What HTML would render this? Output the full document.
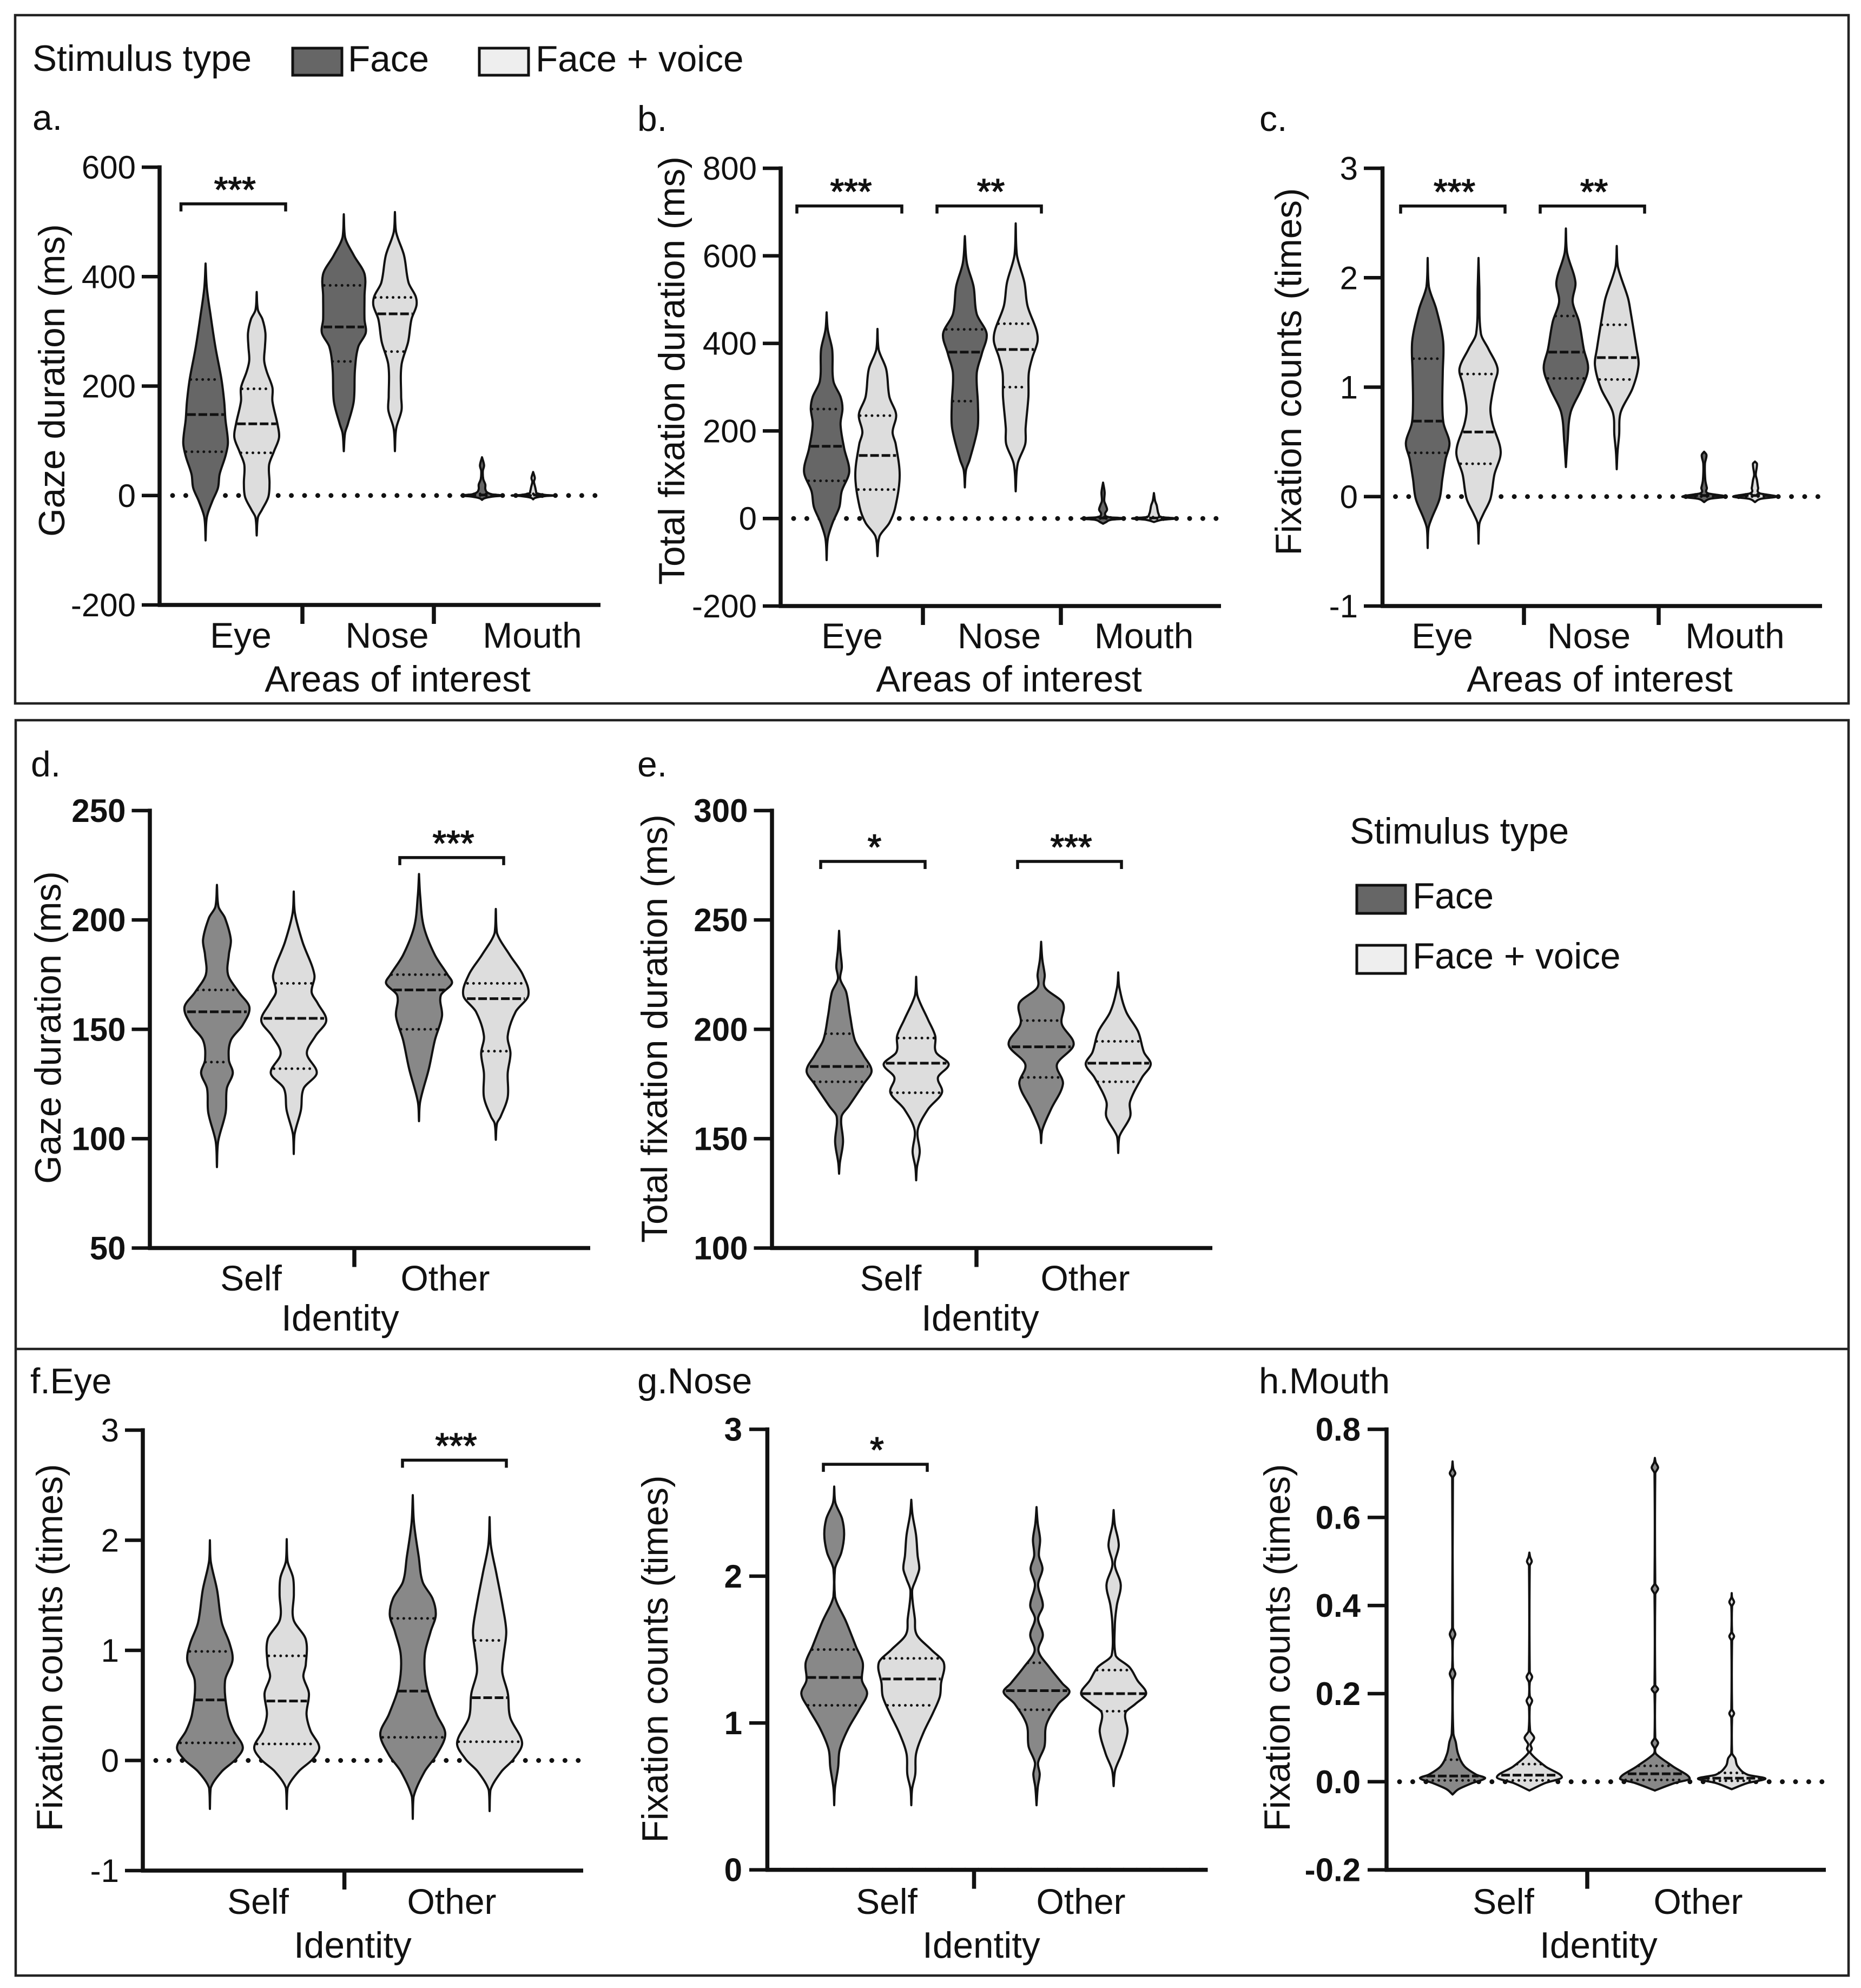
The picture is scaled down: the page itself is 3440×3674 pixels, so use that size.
<!DOCTYPE html>
<html lang="en">
<head>
<meta charset="utf-8">
<title>Violin plots of gaze measures by stimulus type</title>
<style>
html,body{margin:0;padding:0;background:#fff;}
svg{display:block;font-family:"Liberation Sans",Arial,sans-serif;fill:#111;}
</style>
</head>
<body>
<svg id="figure" xmlns="http://www.w3.org/2000/svg" width="3440" height="3674" viewBox="0 0 3440 3674">
  <rect x="0" y="0" width="3440" height="3674" fill="#fff"/>
  <rect x="28" y="28" width="3389" height="1272" fill="none" stroke="#222" stroke-width="4.5"/>
  <rect x="29" y="1331" width="3388" height="2320" fill="none" stroke="#222" stroke-width="4.5"/>
  <line x1="29" y1="2493" x2="3417" y2="2493" stroke="#222" stroke-width="4.5"/>

  <text x="60" y="131" font-size="67.5">Stimulus type</text>
  <rect x="541" y="89" width="91" height="50" fill="#666" stroke="#111" stroke-width="5"/>
  <text x="643" y="132" font-size="67.5">Face</text>
  <rect x="886" y="89" width="91" height="50" fill="#eee" stroke="#111" stroke-width="5"/>
  <text x="990" y="132" font-size="67.5">Face + voice</text>

  <text x="2495" y="1559" font-size="67.5">Stimulus type</text>
  <rect x="2508" y="1636" width="90" height="52" fill="#666" stroke="#111" stroke-width="5"/>
  <text x="2611" y="1679" font-size="67.5">Face</text>
  <rect x="2508" y="1747" width="90" height="52" fill="#eee" stroke="#111" stroke-width="5"/>
  <text x="2611" y="1790" font-size="67.5">Face + voice</text>

  <text x="60" y="240" font-size="66">a.</text>
  <text x="1178" y="242" font-size="66">b.</text>
  <text x="2328" y="242" font-size="66">c.</text>
  <text x="57" y="1435" font-size="66">d.</text>
  <text x="1178" y="1435" font-size="66">e.</text>
  <text x="56" y="2575" font-size="66">f.Eye</text>
  <text x="1178" y="2575" font-size="67">g.Nose</text>
  <text x="2327" y="2575" font-size="67">h.Mouth</text>

  <text font-size="67.5" text-anchor="middle" transform="translate(119 703) rotate(-90)">Gaze duration (ms)</text>
  <text font-size="67.5" text-anchor="middle" transform="translate(1265 685) rotate(-90)">Total fixation duration (ms)</text>
  <text font-size="67.5" text-anchor="middle" transform="translate(2405 687) rotate(-90)">Fixation counts (times)</text>
  <text font-size="67.5" text-anchor="middle" transform="translate(112 1899) rotate(-90)">Gaze duration (ms)</text>
  <text font-size="67.5" text-anchor="middle" transform="translate(1233 1901) rotate(-90)">Total fixation duration (ms)</text>
  <text font-size="67.5" text-anchor="middle" transform="translate(115 3045) rotate(-90)">Fixation counts (times)</text>
  <text font-size="67.5" text-anchor="middle" transform="translate(1234 3066) rotate(-90)">Fixation counts (times)</text>
  <text font-size="67.5" text-anchor="middle" transform="translate(2384 3045) rotate(-90)">Fixation counts (times)</text>

  <text x="735" y="1278" font-size="67.5" text-anchor="middle">Areas of interest</text>
  <text x="1865" y="1278" font-size="67.5" text-anchor="middle">Areas of interest</text>
  <text x="2957" y="1278" font-size="67.5" text-anchor="middle">Areas of interest</text>
  <text x="629" y="2459" font-size="67.5" text-anchor="middle">Identity</text>
  <text x="1812" y="2459" font-size="67.5" text-anchor="middle">Identity</text>
  <text x="652" y="3618" font-size="67.5" text-anchor="middle">Identity</text>
  <text x="1814" y="3618" font-size="67.5" text-anchor="middle">Identity</text>
  <text x="2955" y="3618" font-size="67.5" text-anchor="middle">Identity</text>
</svg>
<script>
// Tick labels and categories
const ticksA = [-200, 0, 200, 400, 600];
const ticksB = [-200, 0, 200, 400, 600, 800];
const ticksC = [-1, 0, 1, 2, 3];
const ticksD = [50, 100, 150, 200, 250];
const ticksE = [100, 150, 200, 250, 300];
const ticksF = [-1, 0, 1, 2, 3];
const ticksG = [0, 1, 2, 3];
const ticksH = [-0.2, 0, 0.2, 0.4, 0.6, 0.8];
const areaCategories = ['Eye', 'Nose', 'Mouth'];
const identityCategories = ['Self', 'Other'];

// Violin profiles: V = value, D = density (half-width units), Q = quartiles [q1, median, q3]
const aEyeFaceV = [424,380,330,270,214,172,139,97,72,39,14,-11,-40,-82];
const aEyeFaceD = [0,3,12,24,38,45,48,54,48,34,30,16,3,0];
const aEyeFaceQ = [80,148,212];
const aEyeVoiceV = [372,339,322,297,272,247,227,197,172,131,106,81,56,22,-3,-27,-40,-73];
const aEyeVoiceD = [0,3,14,21,20,18,24,38,38,50,54,42,30,31,28,12,3,0];
const aEyeVoiceQ = [78,131,195];
const aNoseFaceV = [514,472,439,405,364,322,297,272,231,172,131,114,81];
const aNoseFaceD = [0,3,24,50,50,50,53,35,27,24,10,3,0];
const aNoseFaceQ = [245,308,384];
const aNoseVoiceV = [518,481,439,389,364,347,322,281,239,181,156,122,81];
const aNoseVoiceD = [0,3,22,33,50,52,40,32,16,15,16,3,0];
const aNoseVoiceQ = [263,332,362];
const aMouthFaceV = [70,55,45,30,20,12,6,2,0,-2,-5,-8];
const aMouthFaceD = [0,5,2,3,8,8,12,25,50,25,6,0];
const aMouthFaceQ = [0,1,3];
const aMouthVoiceV = [43,32,25,15,8,4,1,0,-1,-4,-7];
const aMouthVoiceD = [0,4,2,5,7,10,30,52,30,6,0];
const aMouthVoiceQ = [0,1,3];

const bEyeFaceV = [471,431,386,314,278,251,215,161,107,62,26,-10,-46,-95];
const bEyeFaceD = [0,3,14,17,35,40,35,44,57,38,32,15,3,0];
const bEyeFaceQ = [86,165,250];
const bEyeVoiceV = [433,386,341,278,237,197,170,98,26,-10,-41,-86];
const bEyeVoiceD = [0,3,22,30,47,38,46,56,45,30,5,0];
const bEyeVoiceQ = [66,144,235];
const bNoseFaceV = [645,584,530,467,422,377,332,260,206,134,111,71];
const bNoseFaceD = [0,5,22,30,55,43,30,33,32,12,3,0];
const bNoseFaceQ = [268,380,432];
const bNoseVoiceV = [674,602,539,485,431,404,368,332,278,206,170,125,62];
const bNoseVoiceD = [0,3,22,30,52,55,42,33,32,25,24,5,0];
const bNoseVoiceQ = [300,386,445];
const bMouthFaceV = [82,60,40,30,20,10,3,0,-3,-8,-12];
const bMouthFaceD = [0,4,3,7,10,5,15,55,20,8,0];
const bMouthFaceQ = [0,1,3];
const bMouthVoiceV = [58,40,30,20,10,3,0,-3,-8];
const bMouthVoiceD = [0,3,7,9,12,20,55,20,0];
const bMouthVoiceQ = [0,1,3];

const cEyeFaceV = [2.18,1.92,1.71,1.42,1.13,0.85,0.67,0.49,0.34,0.16,-0.02,-0.2,-0.29,-0.47];
const cEyeFaceD = [0,3,22,39,38,37,40,55,45,37,30,10,2,0];
const cEyeFaceQ = [0.4,0.69,1.26];
const cEyeVoiceV = [2.18,1.92,1.49,1.35,1.17,1.03,0.81,0.67,0.41,0.2,-0.02,-0.16,-0.25,-0.43];
const cEyeVoiceD = [0,2,6,25,48,40,30,35,56,40,30,12,2,0];
const cEyeVoiceQ = [0.3,0.59,1.12];
const cNoseFaceV = [2.45,2.23,1.96,1.78,1.6,1.35,1.17,0.99,0.77,0.49,0.27];
const cNoseFaceD = [0,3,24,17,33,45,56,40,12,4,0];
const cNoseFaceQ = [1.08,1.32,1.65];
const cNoseVoiceV = [2.29,2.1,1.82,1.71,1.35,1.2,0.99,0.77,0.56,0.41,0.25];
const cNoseVoiceD = [0,3,28,34,50,55,40,10,6,2,0];
const cNoseVoiceQ = [1.07,1.27,1.57];
const cMouthFaceV = [0.41,0.38,0.3,0.15,0.08,0.03,0,-0.02,-0.05];
const cMouthFaceD = [0,6,2,3,7,10,55,15,0];
const cMouthFaceQ = [0,0.01,0.02];
const cMouthVoiceV = [0.32,0.3,0.2,0.15,0.08,0.03,0,-0.02,-0.05];
const cMouthVoiceD = [0,5,2,5,8,12,55,15,0];
const cMouthVoiceQ = [0,0.01,0.02];

const dSelfFaceV = [216,206,201,191,184,175,167,160,152,145,136,130,123,112,98.6,87];
const dSelfFaceD = [0,4,20,35,30,28,55,82,65,35,30,40,25,22,3,0];
const dSelfFaceQ = [135,158,168];
const dSelfVoiceV = [213,203,190,175,167,162,154,147,139,130,123,113,102,93];
const dSelfVoiceD = [0,3,22,52,45,60,82,55,33,58,25,18,2,0];
const dSelfVoiceQ = [132,155,171];
const dOtherFaceV = [221,211,197,184,175,171,165.5,156,145,132,117,108];
const dOtherFaceD = [0,3,12,40,72,83,55,58,40,25,3,0];
const dOtherFaceQ = [150,168,175];
const dOtherVoiceV = [205,194,184,175,165.5,158,147,139,130,119,110,107,99.5];
const dOtherVoiceD = [0,3,35,68,82,50,30,37,30,30,12,3,0];
const dOtherVoiceQ = [140,164,171];

const eSelfFaceV = [245,236,228.5,223,217,206,195,188,181,175,165,160,148.5,139,134];
const eSelfFaceD = [0,3,7,3,18,28,40,62,82,62,25,6,10,2,0];
const eSelfFaceQ = [176,183,198];
const eSelfVoiceV = [224,215.5,204.4,197,189.5,184,178,171,163.5,154,144,137,131];
const eSelfVoiceD = [0,3,30,48,50,82,55,65,30,4,9,2,0];
const eSelfVoiceQ = [171,184.5,196];
const eOtherFaceV = [240,232,225,219,212,202.5,193,184,175,163.5,154,148];
const eOtherFaceD = [0,3,9,10,55,52,82,40,55,25,3,0];
const eOtherFaceQ = [178,192,204];
const eOtherVoiceV = [226,219,208,199,189.5,184,178,167,160,151,143.5];
const eOtherVoiceD = [0,3,20,50,65,82,60,30,30,3,0];
const eOtherVoiceQ = [176,184.5,194.5];

const fSelfFaceV = [2.0,1.81,1.55,1.25,1.06,0.91,0.72,0.42,0.27,0.12,0.01,-0.1,-0.25,-0.44];
const fSelfFaceD = [0,2,18,30,50,57,38,45,60,83,65,30,2,0];
const fSelfFaceQ = [0.16,0.55,0.99];
const fSelfVoiceV = [2.01,1.81,1.66,1.51,1.28,1.1,0.87,0.76,0.61,0.42,0.27,0.12,0.01,-0.1,-0.25,-0.44];
const fSelfVoiceD = [0,2,16,18,17,48,48,42,56,50,60,82,65,30,2,0];
const fSelfVoiceQ = [0.15,0.54,0.95];
const fOtherFaceV = [2.41,2.16,1.85,1.62,1.47,1.32,1.17,0.95,0.68,0.42,0.24,0.05,-0.1,-0.33,-0.53];
const fOtherFaceD = [0,3,15,25,50,58,45,30,35,60,82,60,30,2,0];
const fOtherFaceQ = [0.21,0.63,1.29];
const fOtherVoiceV = [2.21,1.96,1.7,1.4,1.17,0.95,0.8,0.61,0.39,0.16,0.01,-0.1,-0.27,-0.46];
const fOtherVoiceD = [0,3,17,33,42,35,32,46,52,82,60,30,2,0];
const fOtherVoiceQ = [0.17,0.57,1.09];

const gSelfFaceV = [2.61,2.5,2.39,2.28,2.16,2.05,1.86,1.69,1.52,1.41,1.29,1.2,1.1,0.96,0.82,0.7,0.56,0.44];
const gSelfFaceD = [0,3,20,25,18,2,2,30,55,72,70,83,65,35,14,10,2,0];
const gSelfFaceQ = [1.12,1.31,1.5];
const gSelfVoiceV = [2.52,2.42,2.28,2.14,2.05,1.98,1.9,1.71,1.6,1.5,1.41,1.27,1.18,1.07,0.93,0.79,0.65,0.55,0.44];
const gSelfVoiceD = [0,3,12,16,20,12,2,9,14,50,82,75,72,55,30,12,10,2,0];
const gSelfVoiceQ = [1.12,1.3,1.44];
const gOtherFaceV = [2.47,2.36,2.25,2.14,2.05,1.94,1.8,1.71,1.6,1.49,1.38,1.27,1.21,1.13,0.99,0.84,0.73,0.65,0.56,0.44];
const gOtherFaceD = [0,3,9,6,15,4,16,4,16,5,32,65,83,55,25,20,4,8,3,0];
const gOtherFaceQ = [1.09,1.22,1.41];
const gOtherVoiceV = [2.45,2.35,2.21,2.08,1.94,1.8,1.66,1.46,1.38,1.29,1.2,1.13,1.07,0.94,0.79,0.68,0.57];
const gOtherVoiceD = [0,3,13,3,18,8,3,5,40,60,82,55,30,35,20,4,0];
const gOtherVoiceQ = [1.08,1.2,1.36];

const hSelfFaceV = [0.727,0.71,0.70,0.69,0.35,0.335,0.32,0.26,0.245,0.23,0.11,0.09,0.063,0.035,0.016,0.008,-0.003,-0.017,-0.029];
const hSelfFaceD = [0,2,7,1,1,7,1,1,7,1,2,8,14,30,60,82,50,15,0];
const hSelfFaceQ = [0.003,0.013,0.05];
const hSelfVoiceV = [0.52,0.51,0.5,0.49,0.25,0.238,0.225,0.195,0.184,0.17,0.115,0.1,0.085,0.075,0.065,0.035,0.01,-0.003,-0.02];
const hSelfVoiceD = [0,2,6,1,1,7,1,1,7,1,2,12,3,6,3,40,82,40,0];
const hSelfVoiceQ = [0.003,0.015,0.04];
const hOtherFaceV = [0.735,0.725,0.713,0.7,0.45,0.438,0.425,0.22,0.21,0.2,0.1,0.088,0.075,0.063,0.035,0.007,-0.003,-0.02];
const hOtherFaceD = [0,2,8,1,1,8,1,1,8,1,1,8,1,3,45,88,50,0];
const hOtherFaceQ = [0.004,0.018,0.036];
const hOtherVoiceV = [0.428,0.418,0.408,0.398,0.34,0.33,0.32,0.165,0.155,0.145,0.065,0.053,0.035,0.016,0.007,-0.003,-0.017];
const hOtherVoiceD = [0,1,6,1,1,6,1,1,6,1,1,9,15,40,85,40,0];
const hOtherVoiceQ = [0.002,0.008,0.02];

const zeroLinePanels = ['a', 'b', 'c', 'f', 'g', 'h'];

const panels = [
  {id:'a', ticks:ticksA, cats:areaCategories, bold:false, dec:0,
   axisX:295, xEnd:1110, tickLeft:262, labelRight:251, yTop:309, yBottom:1118, yMax:600, yMin:-200,
   x0:380, step:255.5, gap:94.5, k:0.765, dark:'#666', catCentres:[445,715.5,984], catBase:1197, seps:[559,802],
   bars:[{x1:334.5, x2:528, level:533, stars:'***'}],
   violins:[
    {cat:0,s:0,v:aEyeFaceV,d:aEyeFaceD,q:aEyeFaceQ},{cat:0,s:1,v:aEyeVoiceV,d:aEyeVoiceD,q:aEyeVoiceQ},
    {cat:1,s:0,v:aNoseFaceV,d:aNoseFaceD,q:aNoseFaceQ},{cat:1,s:1,v:aNoseVoiceV,d:aNoseVoiceD,q:aNoseVoiceQ},
    {cat:2,s:0,v:aMouthFaceV,d:aMouthFaceD,q:aMouthFaceQ},{cat:2,s:1,v:aMouthVoiceV,d:aMouthVoiceD,q:aMouthVoiceQ}]},
  {id:'b', ticks:ticksB, cats:areaCategories, bold:false, dec:0,
   axisX:1443, xEnd:2257, tickLeft:1410, labelRight:1399, yTop:311, yBottom:1120, yMax:800, yMin:-200,
   x0:1528, step:255.5, gap:94, k:0.733, dark:'#666', catCentres:[1575,1847,2114.6], catBase:1198, seps:[1706,1961],
   bars:[{x1:1473, x2:1667, level:714, stars:'***'},{x1:1732, x2:1925, level:714, stars:'**'}],
   violins:[
    {cat:0,s:0,v:bEyeFaceV,d:bEyeFaceD,q:bEyeFaceQ},{cat:0,s:1,v:bEyeVoiceV,d:bEyeVoiceD,q:bEyeVoiceQ},
    {cat:1,s:0,v:bNoseFaceV,d:bNoseFaceD,q:bNoseFaceQ},{cat:1,s:1,v:bNoseVoiceV,d:bNoseVoiceD,q:bNoseVoiceQ},
    {cat:2,s:0,v:bMouthFaceV,d:bMouthFaceD,q:bMouthFaceQ},{cat:2,s:1,v:bMouthVoiceV,d:bMouthVoiceD,q:bMouthVoiceQ}]},
  {id:'c', ticks:ticksC, cats:areaCategories, bold:false, dec:0,
   axisX:2555.5, xEnd:3368, tickLeft:2521, labelRight:2510, yTop:311, yBottom:1120, yMax:3, yMin:-1,
   x0:2639, step:255.5, gap:94, k:0.733, dark:'#666', catCentres:[2666,2937,3207], catBase:1198, seps:[2817,3066],
   bars:[{x1:2589, x2:2782, level:2.655, stars:'***'},{x1:2847, x2:3040, level:2.655, stars:'**'}],
   violins:[
    {cat:0,s:0,v:cEyeFaceV,d:cEyeFaceD,q:cEyeFaceQ},{cat:0,s:1,v:cEyeVoiceV,d:cEyeVoiceD,q:cEyeVoiceQ},
    {cat:1,s:0,v:cNoseFaceV,d:cNoseFaceD,q:cNoseFaceQ},{cat:1,s:1,v:cNoseVoiceV,d:cNoseVoiceD,q:cNoseVoiceQ},
    {cat:2,s:0,v:cMouthFaceV,d:cMouthFaceD,q:cMouthFaceQ},{cat:2,s:1,v:cMouthVoiceV,d:cMouthVoiceD,q:cMouthVoiceQ}]},
  {id:'d', ticks:ticksD, cats:identityCategories, bold:true, dec:0,
   axisX:277, xEnd:1091, tickLeft:243.5, labelRight:232.5, yTop:1498, yBottom:2306.5, yMax:250, yMin:50,
   x0:401, step:373.5, gap:142, k:0.733, dark:'#888', catCentres:[464,823], catBase:2385, seps:[655],
   bars:[{x1:739, x2:931, level:228.5, stars:'***'}],
   violins:[
    {cat:0,s:0,v:dSelfFaceV,d:dSelfFaceD,q:dSelfFaceQ},{cat:0,s:1,v:dSelfVoiceV,d:dSelfVoiceD,q:dSelfVoiceQ},
    {cat:1,s:0,v:dOtherFaceV,d:dOtherFaceD,q:dOtherFaceQ},{cat:1,s:1,v:dOtherVoiceV,d:dOtherVoiceD,q:dOtherVoiceQ}]},
  {id:'e', ticks:ticksE, cats:identityCategories, bold:true, dec:0,
   axisX:1427, xEnd:2241, tickLeft:1393.5, labelRight:1382.5, yTop:1498, yBottom:2306.5, yMax:300, yMin:100,
   x0:1551, step:373.5, gap:142.5, k:0.733, dark:'#888', catCentres:[1646.5,2006], catBase:2385, seps:[1805],
   bars:[{x1:1517, x2:1710, level:276.75, stars:'*'},{x1:1881, x2:2073, level:276.75, stars:'***'}],
   violins:[
    {cat:0,s:0,v:eSelfFaceV,d:eSelfFaceD,q:eSelfFaceQ},{cat:0,s:1,v:eSelfVoiceV,d:eSelfVoiceD,q:eSelfVoiceQ},
    {cat:1,s:0,v:eOtherFaceV,d:eOtherFaceD,q:eOtherFaceQ},{cat:1,s:1,v:eOtherVoiceV,d:eOtherVoiceD,q:eOtherVoiceQ}]},
  {id:'f', ticks:ticksF, cats:identityCategories, bold:false, dec:0,
   axisX:264, xEnd:1078, tickLeft:231, labelRight:220, yTop:2643, yBottom:3457, yMax:3, yMin:-1,
   x0:388, step:375, gap:142, k:0.733, dark:'#888', catCentres:[477,835], catBase:3537, seps:[636.6],
   bars:[{x1:744, x2:936, level:2.727, stars:'***'}],
   violins:[
    {cat:0,s:0,v:fSelfFaceV,d:fSelfFaceD,q:fSelfFaceQ},{cat:0,s:1,v:fSelfVoiceV,d:fSelfVoiceD,q:fSelfVoiceQ},
    {cat:1,s:0,v:fOtherFaceV,d:fOtherFaceD,q:fOtherFaceQ},{cat:1,s:1,v:fOtherVoiceV,d:fOtherVoiceD,q:fOtherVoiceQ}]},
  {id:'g', ticks:ticksG, cats:identityCategories, bold:true, dec:0,
   axisX:1418.4, xEnd:2232.5, tickLeft:1385, labelRight:1372, yTop:2641.5, yBottom:3455.6, yMax:3, yMin:0,
   x0:1542, step:374, gap:142.5, k:0.733, dark:'#888', catCentres:[1639,1998], catBase:3537, seps:[1800.5],
   bars:[{x1:1522, x2:1714, level:2.762, stars:'*'}],
   violins:[
    {cat:0,s:0,v:gSelfFaceV,d:gSelfFaceD,q:gSelfFaceQ},{cat:0,s:1,v:gSelfVoiceV,d:gSelfVoiceD,q:gSelfVoiceQ},
    {cat:1,s:0,v:gOtherFaceV,d:gOtherFaceD,q:gOtherFaceQ},{cat:1,s:1,v:gOtherVoiceV,d:gOtherVoiceD,q:gOtherVoiceQ}]},
  {id:'h', ticks:ticksH, cats:identityCategories, bold:true, dec:1,
   axisX:2563, xEnd:3375, tickLeft:2528, labelRight:2515, yTop:2641.5, yBottom:3455.6, yMax:0.8, yMin:-0.2,
   x0:2685, step:374, gap:142, k:0.733, dark:'#888', catCentres:[2779,3139], catBase:3537, seps:[2934],
   bars:[],
   violins:[
    {cat:0,s:0,v:hSelfFaceV,d:hSelfFaceD,q:hSelfFaceQ},{cat:0,s:1,v:hSelfVoiceV,d:hSelfVoiceD,q:hSelfVoiceQ},
    {cat:1,s:0,v:hOtherFaceV,d:hOtherFaceD,q:hOtherFaceQ},{cat:1,s:1,v:hOtherVoiceV,d:hOtherVoiceD,q:hOtherVoiceQ}]}
];

const NS = 'http://www.w3.org/2000/svg';
const root = document.getElementById('figure');

function make(tag, attrs, parent) {
  const node = document.createElementNS(NS, tag);
  for (const key in attrs) node.setAttribute(key, attrs[key]);
  parent.appendChild(node);
  return node;
}

// Hermite curve of half-width against y: slopes come from finite differences,
// so short bumps stay symmetric next to long tails. Width is clamped at the centre line.
function sideSegments(pts, cx, sign) {
  const n = pts.length;
  const slope = pts.map(function (pt, i) {
    const a = pts[Math.max(i - 1, 0)], b = pts[Math.min(i + 1, n - 1)];
    return (b[0] - a[0]) / (b[1] - a[1]);
  });
  let out = '';
  for (let i = 0; i < n - 1; i++) {
    const p1 = pts[i], p2 = pts[i + 1];
    const dy = (p2[1] - p1[1]) / 3;
    const w1 = Math.max(0, p1[0] + slope[i] * dy);
    const w2 = Math.max(0, p2[0] - slope[i + 1] * dy);
    out += ' C' + (cx + sign * w1).toFixed(1) + ' ' + (p1[1] + dy).toFixed(1) + ' ' + (cx + sign * w2).toFixed(1) + ' ' + (p2[1] - dy).toFixed(1) + ' ' + (cx + sign * p2[0]).toFixed(1) + ' ' + p2[1].toFixed(1);
  }
  return out;
}

function densityAt(values, dens, val) {
  for (let i = 0; i < values.length - 1; i++) {
    if (val <= values[i] && val >= values[i + 1]) {
      const t = (values[i] - val) / (values[i] - values[i + 1]);
      return dens[i] + (dens[i + 1] - dens[i]) * t;
    }
  }
  return 0;
}

panels.forEach(function (p) {
  const yScale = function (val) { return p.yTop + (p.yMax - val) / (p.yMax - p.yMin) * (p.yBottom - p.yTop); };
  const xScale = function (cat, s) { return p.x0 + cat * p.step + s * p.gap; };

  const group = make('g', {}, root);
  
  

  if (zeroLinePanels.indexOf(p.id) >= 0) {
    const onAxis = p.yMin === 0;
    const zero = make('line', {
      x1: p.axisX + 24, x2: p.xEnd, y1: yScale(0) - (onAxis ? 3 : 0), y2: yScale(0) - (onAxis ? 3 : 0),
      stroke: onAxis ? '#999' : '#111', 'stroke-width': onAxis ? 2 : 9, 'stroke-linecap': 'round', 'stroke-dasharray': '0 24.4'
    }, group);
    
    
  }

  p.violins.forEach(function (vio) {
    const cx = xScale(vio.cat, vio.s);
    const series = vio.s === 0 ? 'face' : 'face-voice';
    const pts = vio.v.map(function (val, i) { return [vio.d[i] * p.k, yScale(val)]; });
    const reversed = pts.slice().reverse();
    const d = 'M' + cx.toFixed(1) + ' ' + pts[0][1].toFixed(1) + sideSegments(pts, cx, 1) + ' L' + cx.toFixed(1) + ' ' + reversed[0][1].toFixed(1) + sideSegments(reversed, cx, -1) + ' Z';
    const body = make('path', {
      d: d, fill: vio.s === 0 ? p.dark : '#ddd', stroke: '#111', 'stroke-width': 4, 'stroke-linejoin': 'round'
    }, group);
    
    

    vio.q.forEach(function (qv, qi) {
      const half = Math.max(densityAt(vio.v, vio.d, qv) * p.k - 2, 0);
      const isMedian = qi === 1;
      const qLine = make('line', {
        x1: cx - half, x2: cx + half, y1: yScale(qv), y2: yScale(qv),
        stroke: '#111', 'stroke-width': isMedian ? 5 : 5, 'stroke-linecap': isMedian ? 'butt' : 'round',
        'stroke-dasharray': isMedian ? '16 5' : '0 11'
      }, group);
      
      
    });
  });

  const yAxis = make('line', { x1: p.axisX, x2: p.axisX, y1: p.yTop - 3.5, y2: p.yBottom + 3.5, stroke: '#111', 'stroke-width': 7.5 }, group);
  
  
  const xAxis = make('line', { x1: p.axisX - 3, x2: p.xEnd, y1: p.yBottom, y2: p.yBottom, stroke: '#111', 'stroke-width': 7.5 }, group);
  
  

  p.ticks.forEach(function (t) {
    const ty = yScale(t);
    const mark = make('line', { x1: p.tickLeft, x2: p.axisX, y1: ty, y2: ty, stroke: '#111', 'stroke-width': 6.5 }, group);
    
    
    const label = make('text', {
      x: p.labelRight, y: ty + 21, 'font-size': 60, 'text-anchor': 'end', 'font-weight': p.bold ? 'bold' : 'normal'
    }, group);
    
    
    label.textContent = t.toFixed(p.dec);
  });

  p.seps.forEach(function (sx) {
    const sep = make('line', { x1: sx, x2: sx, y1: p.yBottom, y2: p.yBottom + 35, stroke: '#111', 'stroke-width': 7.5 }, group);
    
    
  });

  p.cats.forEach(function (name, i) {
    const cat = make('text', { x: p.catCentres[i], y: p.catBase, 'font-size': 66, 'text-anchor': 'middle' }, group);
    
    
    cat.textContent = name;
  });

  p.bars.forEach(function (b) {
    const by = yScale(b.level);
    const bracket = make('path', {
      d: 'M' + b.x1 + ' ' + (by + 14) + ' V' + by + ' H' + b.x2 + ' V' + (by + 14),
      fill: 'none', stroke: '#111', 'stroke-width': 5.5
    }, group);
    
    
    const star = make('text', { x: (b.x1 + b.x2) / 2 + 3, y: by - 4, 'font-size': 66, 'text-anchor': 'middle', stroke: '#111', 'stroke-width': 1.5 }, group);
    
    
    star.textContent = b.stars;
  });
});
</script>
</body>
</html>
